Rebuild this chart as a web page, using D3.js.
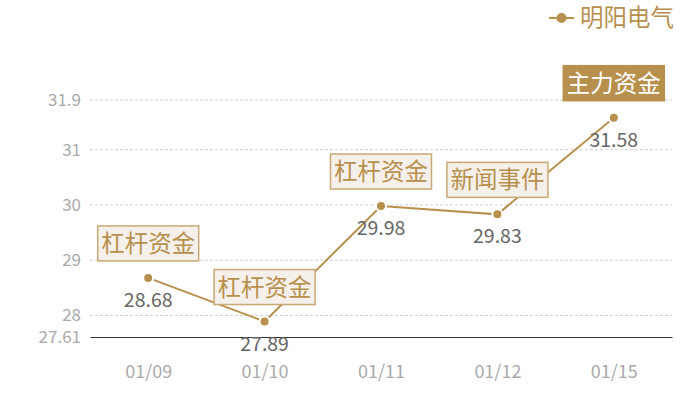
<!DOCTYPE html>
<html>
<head>
<meta charset="utf-8">
<script src="https://cdn.jsdelivr.net/npm/d3@7"></script>
<style>
  body { margin: 0; background: #fff; }
  text { font-family: "Noto Sans CJK SC", "Noto Sans", sans-serif; }
</style>
</head>
<body>
<div id="chart"></div>
<script>
// data
var dates = ["01/09", "01/10", "01/11", "01/12", "01/15"];
var prices = [28.68, 27.89, 29.98, 29.83, 31.58];
var events = ["杠杆资金", "杠杆资金", "杠杆资金", "新闻事件", "主力资金"];
var yTicks = [27.61, 28, 29, 30, 31, 31.9];
var seriesName = "明阳电气";

var svgWidth = 700;
var svgHeight = 400;
var margin = { top: 100, right: 28, bottom: 63, left: 90 };
var width = svgWidth - margin.left - margin.right;
var height = svgHeight - margin.top - margin.bottom;

var gold = "#b8904e";

var svg = d3.select("#chart")
    .append("svg")
    .attr("width", svgWidth)
    .attr("height", svgHeight);

var chartGroup = svg.append("g")
    .attr("transform", `translate(${margin.left}, ${margin.top})`);

var data = dates.map((d, i) => ({ date: d, price: prices[i], event: events[i] }));

// scales
var xScale = d3.scalePoint()
    .domain(dates)
    .range([0, width])
    .padding(0.5);
var yScale = d3.scaleLinear()
    .domain([27.61, 31.9])
    .range([height, 0]);

// grid lines
chartGroup.selectAll(".grid")
    .data(yTicks.slice(1))
    .enter()
    .append("line")
    .attr("x1", 0)
    .attr("x2", width)
    .attr("y1", d => yScale(d))
    .attr("y2", d => yScale(d))
    .attr("stroke", "#d0d0d0")
    .attr("stroke-dasharray", "3,2");

// y axis labels
var leftAxis = d3.axisLeft(yScale)
    .tickValues(yTicks)
    .tickSize(0)
    .tickPadding(9)
    .tickFormat(d => d);
var yAxisG = chartGroup.append("g").call(leftAxis);
yAxisG.select(".domain").remove();
yAxisG.selectAll("text")
    .attr("fill", "#aaa")
    .style("font-size", "17px");

// x axis
var bottomAxis = d3.axisBottom(xScale).tickSize(0).tickPadding(28);
var xAxisG = chartGroup.append("g")
    .attr("transform", `translate(0, ${height})`)
    .call(bottomAxis);
xAxisG.select(".domain").attr("stroke", "#333").attr("stroke-width", 1);
xAxisG.selectAll("text")
    .attr("fill", "#aaa")
    .style("font-size", "18px");

// line
var line = d3.line()
    .x(d => xScale(d.date))
    .y(d => yScale(d.price));
chartGroup.append("path")
    .datum(data)
    .attr("d", line)
    .attr("fill", "none")
    .attr("stroke", gold)
    .attr("stroke-width", 2);

chartGroup.selectAll(".dot")
    .data(data)
    .enter()
    .append("circle")
    .attr("cx", d => xScale(d.date))
    .attr("cy", d => yScale(d.price))
    .attr("r", 5)
    .attr("fill", gold)
    .attr("stroke", "#fff")
    .attr("stroke-width", 2);

// value labels
chartGroup.selectAll(".val")
    .data(data)
    .enter()
    .append("text")
    .attr("x", d => xScale(d.date))
    .attr("y", d => yScale(d.price) + 29)
    .attr("text-anchor", "middle")
    .attr("fill", "#666")
    .style("font-size", "19.5px")
    .text(d => d.price.toFixed(2));

// event boxes
var boxW = 101, boxH = 35;
var boxes = chartGroup.selectAll(".evt")
    .data(data)
    .enter()
    .append("g")
    .attr("transform", d => `translate(${xScale(d.date)}, ${yScale(d.price) - 17})`);

boxes.append("rect")
    .attr("x", -boxW / 2)
    .attr("y", -boxH)
    .attr("width", boxW)
    .attr("height", boxH)
    .attr("fill", (d, i) => i == data.length - 1 ? gold : "#f5f0ea")
    .attr("stroke", (d, i) => i == data.length - 1 ? gold : "#c9a877")
    .attr("stroke-width", 1.5);

boxes.append("text")
    .attr("x", 0)
    .attr("y", -boxH / 2)
    .attr("dy", "0.36em")
    .attr("text-anchor", "middle")
    .attr("fill", (d, i) => i == data.length - 1 ? "#fff" : gold)
    .style("font-size", "23.5px")
    .text(d => d.event);

// legend
var legend = svg.append("g").attr("transform", "translate(549, 18)");
legend.append("line")
    .attr("x1", 0).attr("x2", 25)
    .attr("stroke", gold).attr("stroke-width", 2);
legend.append("circle")
    .attr("cx", 12.5).attr("r", 5)
    .attr("fill", gold);
legend.append("text")
    .attr("x", 31)
    .attr("dy", "0.36em")
    .attr("fill", gold)
    .style("font-size", "23.5px")
    .text(seriesName);
</script>
</body>
</html>
